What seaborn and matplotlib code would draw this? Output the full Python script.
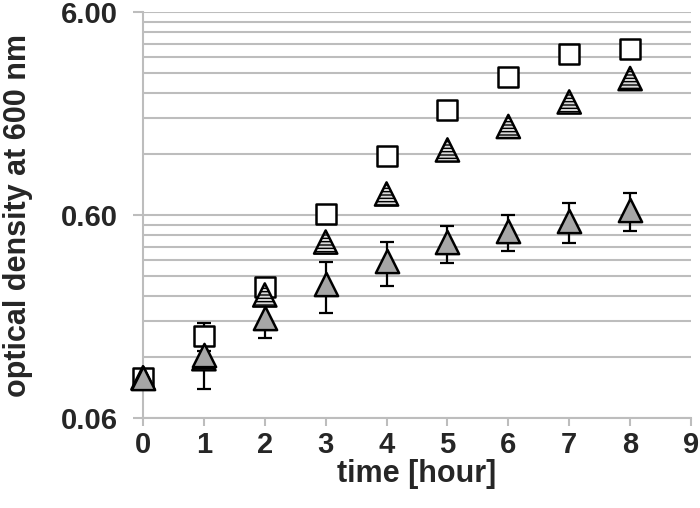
import pandas as pd
import matplotlib
matplotlib.use("Agg")
import matplotlib.pyplot as plt
from matplotlib.ticker import NullFormatter
import seaborn as sns

# Growth curves (OD600 vs time)
hours = [0, 1, 2, 3, 4, 5, 6, 7, 8]
od_square = [0.095, 0.153, 0.267, 0.611, 1.175, 1.98, 2.89, 3.72, 3.96]
err_square = [0.0, 0.024, 0.0, 0.0, 0.0, 0.0, 0.0, 0.0, 0.0]
od_striped = [0.095, 0.118, 0.243, 0.443, 0.764, 1.259, 1.643, 2.17, 2.83]
od_gray = [0.095, 0.123, 0.188, 0.275, 0.357, 0.441, 0.502, 0.563, 0.637]
err_gray = [0.004, 0.039, 0.039, 0.077, 0.088, 0.091, 0.100, 0.127, 0.135]

y_major = [0.06, 0.6, 6.0]
y_major_labels = ["0.06", "0.60", "6.00"]
y_minor = [0.06 * k for k in range(2, 10)] + [0.6 * k for k in range(2, 10)]
x_ticks = list(range(0, 10))

df = pd.DataFrame({"hour": hours, "square": od_square, "striped": od_striped,
                   "gray": od_gray})

sns.set_style("white")
plt.rcParams["font.family"] = ["Liberation Sans", "DejaVu Sans"]
plt.rcParams["font.weight"] = "bold"
plt.rcParams["hatch.linewidth"] = 1.0

fig = plt.figure(figsize=(7, 5.08), dpi=100)
ax = fig.add_axes([143 / 700, 1 - 418.3 / 508, (691 - 143) / 700, (418.3 - 12.3) / 508])

grid_col = "#bdbdbd"

# error bars behind the markers
for vals, errs in [(od_square, err_square), (od_gray, err_gray)]:
    eb = ax.errorbar(hours, vals, yerr=errs, fmt="none", ecolor="black",
                     elinewidth=1.6, capsize=5, capthick=1.6, zorder=3)
    for art in eb.lines[1] + eb.lines[2]:
        art.set_clip_on(False)

sns.scatterplot(data=df, x="hour", y="square", marker="s", s=190, color="white",
                edgecolor="black", linewidth=1.8, zorder=4, clip_on=False, ax=ax)
sns.scatterplot(data=df, x="hour", y="striped", marker="^", s=280, color="#d9d9d9",
                edgecolor="black", linewidth=1.8, hatch="-----", zorder=5,
                clip_on=False, ax=ax)
sns.scatterplot(data=df, x="hour", y="gray", marker="^", s=280, color="#a6a6a6",
                edgecolor="black", linewidth=1.8, zorder=6, clip_on=False, ax=ax)

ax.set_yscale("log")
ax.set_xlim(0, 9)
ax.set_ylim(0.06, 6.0)

ax.set_yticks(y_major, labels=y_major_labels)
ax.set_yticks(y_minor, minor=True)
ax.yaxis.set_minor_formatter(NullFormatter())
ax.set_xticks(x_ticks)

ax.grid(True, which="both", axis="y", color=grid_col, linewidth=1.5, zorder=0)
ax.set_axisbelow(True)

ax.tick_params(axis="y", which="major", length=7, width=1.5, color=grid_col,
               labelsize=21, pad=11, direction="out", left=True)
ax.tick_params(axis="y", which="minor", length=0)
ax.tick_params(axis="x", length=6, width=1.5, color=grid_col, labelsize=21,
               pad=3, direction="out", bottom=True)

for side in ["top", "right"]:
    ax.spines[side].set_visible(False)
for side in ["left", "bottom"]:
    ax.spines[side].set_color(grid_col)
    ax.spines[side].set_linewidth(1.5)

ax.set_xlabel("time [hour]", fontsize=22, fontweight="bold")
ax.xaxis.set_label_coords(0.5, -0.1)
ax.set_ylabel("optical density at 600 nm", fontsize=22, fontweight="bold")
ax.yaxis.set_label_coords(-0.2, 0.5)

fig.savefig("out.png", dpi=100)
